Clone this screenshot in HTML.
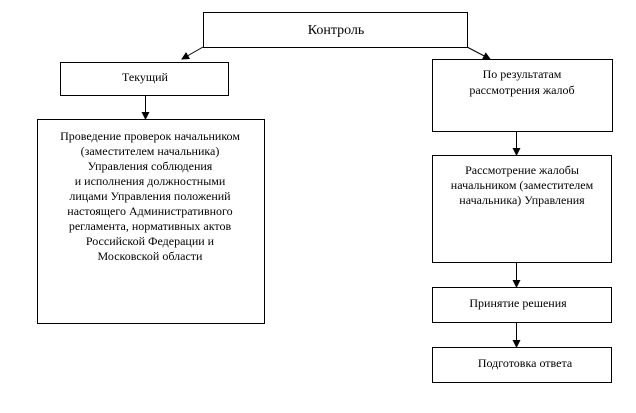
<!DOCTYPE html>
<html><head><meta charset="utf-8"><style>
body{margin:0;background:#fff;}
text{font-family:"Liberation Serif","Times New Roman",serif;font-size:12px;fill:#000;text-anchor:middle;}
</style></head><body>
<svg width="636" height="408" viewBox="0 0 636 408" xmlns="http://www.w3.org/2000/svg" font-family="Liberation Serif, serif">
<defs><marker id="a" markerWidth="8" markerHeight="8" refX="7" refY="4" orient="auto" markerUnits="userSpaceOnUse"><path d="M0,0 L8,4 L0,8 z" fill="#000"/></marker></defs>
<g fill="#fff" stroke="#000" stroke-width="1">
<rect x="203.5" y="12.5" width="264" height="35"/>
<rect x="60.5" y="62.5" width="168" height="33"/>
<rect x="432.5" y="59.5" width="180" height="72"/>
<rect x="37.5" y="119.5" width="227" height="204"/>
<rect x="432.5" y="155.5" width="179" height="107"/>
<rect x="432.5" y="287.5" width="179" height="35"/>
<rect x="432.5" y="347.5" width="179" height="35"/>
</g>
<g stroke="#000" stroke-width="1" marker-end="url(#a)">
<line x1="203" y1="47" x2="182" y2="59"/>
<line x1="467" y1="47" x2="490" y2="59"/>
<line x1="145.5" y1="96" x2="145.5" y2="119"/>
<line x1="516.5" y1="132" x2="516.5" y2="155"/>
<line x1="516.5" y1="263" x2="516.5" y2="287"/>
<line x1="516.5" y1="323" x2="516.5" y2="347"/>
</g>
<text x="336" y="34" font-family="Liberation Serif, serif" style="font-size:14px">Контроль</text>
<text x="145" y="81" font-family="Liberation Serif, serif">Текущий</text>
<text x="522" y="78" font-family="Liberation Serif, serif">По результатам</text>
<text x="522" y="94" font-family="Liberation Serif, serif">рассмотрения жалоб</text>
<g font-family="Liberation Serif, serif">
<text x="150" y="140">Проведение проверок начальником</text>
<text x="150" y="155">(заместителем начальника)</text>
<text x="150" y="170">Управления соблюдения</text>
<text x="150" y="185">и исполнения  должностными</text>
<text x="150" y="200">лицами Управления положений</text>
<text x="150" y="215">настоящего Административного</text>
<text x="150" y="230">регламента, нормативных актов</text>
<text x="150" y="245">Российской Федерации и</text>
<text x="150" y="260">Московской области</text>
<text x="522" y="174">Рассмотрение жалобы</text>
<text x="522" y="189">начальником (заместителем</text>
<text x="522" y="204">начальника) Управления</text>
<text x="518" y="307">Принятие решения</text>
<text x="525" y="367">Подготовка ответа</text>
</g>
</svg>
</body></html>
